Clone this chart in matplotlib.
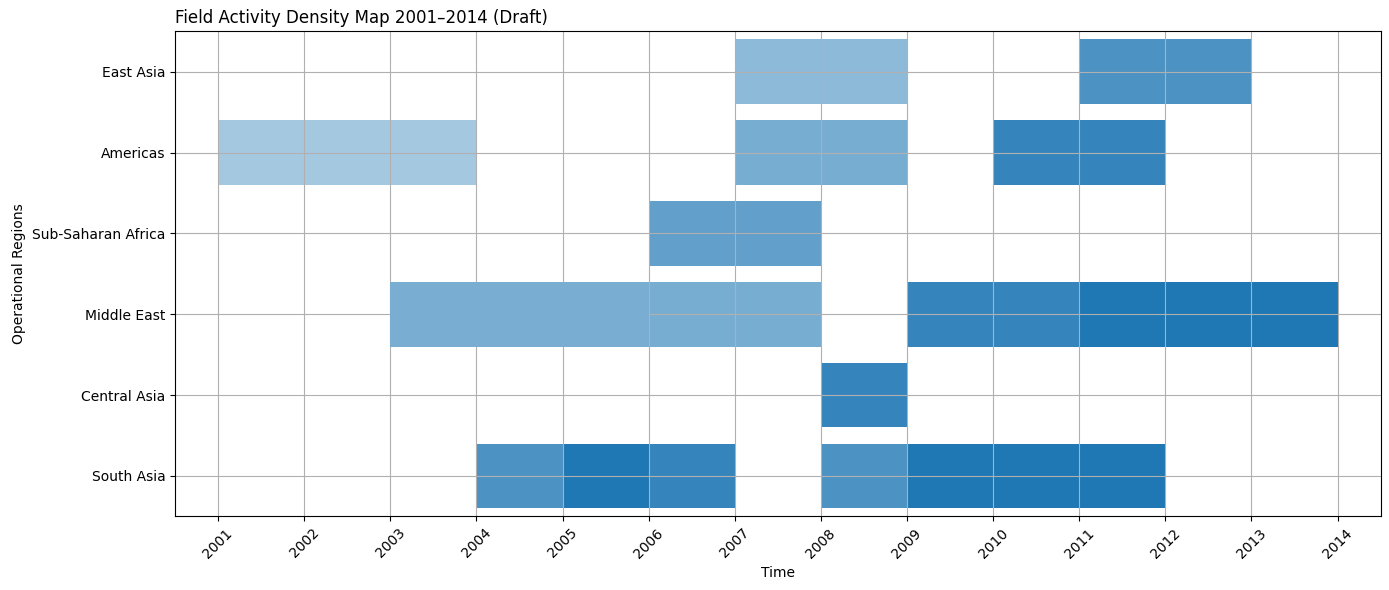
import matplotlib.pyplot as plt

regions = ['South Asia', 'Central Asia', 'Middle East', 'Sub-Saharan Africa', 'Americas', 'East Asia']

# one entry per activity block: region, start year, end year, intensity
seg_region = ['South Asia', 'South Asia', 'South Asia', 'South Asia', 'South Asia',
              'Central Asia',
              'Middle East', 'Middle East', 'Middle East', 'Middle East',
              'Sub-Saharan Africa',
              'Americas', 'Americas', 'Americas',
              'East Asia', 'East Asia']
seg_start = [2004, 2005, 2006, 2008, 2009,
             2008,
             2003, 2006, 2009, 2011,
             2006,
             2001, 2007, 2010,
             2007, 2011]
seg_end = [2005, 2006, 2007, 2009, 2012,
           2009,
           2006, 2008, 2011, 2014,
           2008,
           2004, 2009, 2012,
           2009, 2013]
seg_alpha = [0.8, 1.0, 0.9, 0.8, 1.0,
             0.9,
             0.6, 0.6, 0.9, 1.0,
             0.7,
             0.4, 0.6, 0.9,
             0.5, 0.8]
# the first Middle East block hides the grid in the original
seg_ontop = [False] * len(seg_region)
seg_ontop[6] = True

years = list(range(2001, 2015))

base = (31 / 255, 119 / 255, 180 / 255)

fig, ax = plt.subplots(figsize=(13.89, 5.9), dpi=100)

for r, s, e, a, top in zip(seg_region, seg_start, seg_end, seg_alpha, seg_ontop):
    y = regions.index(r)
    if top:
        # solid pre-blended colour drawn above the grid
        col = tuple(1 - a * (1 - c) for c in base)
        ax.barh(y, e - s, left=s, height=0.8, color=col, zorder=2)
    else:
        ax.barh(y, e - s, left=s, height=0.8, color=base, alpha=a, zorder=1)

ax.set_yticks(range(len(regions)))
ax.set_yticklabels(regions)
ax.set_xticks(years)
ax.set_xticklabels([str(y) for y in years], rotation=45)
ax.set_xlim(2000.5, 2014.5)
ax.set_ylim(-0.5, 5.5)
ax.set_xlabel('Time')
ax.set_ylabel('Operational Regions')
ax.set_title('Field Activity Density Map 2001–2014 (Draft)', loc='left')
ax.grid(True)

plt.subplots_adjust(left=0.126, right=0.994, top=0.947, bottom=0.125)
plt.savefig('out.png')
